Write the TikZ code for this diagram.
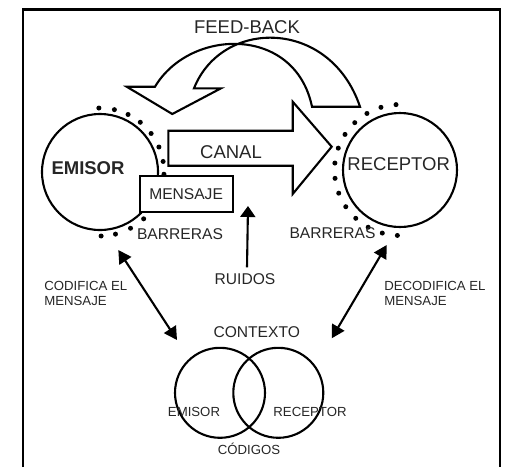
\documentclass[tikz,border=0pt]{standalone}
\usepackage{fontspec}
\setmainfont{Liberation Sans}
\usetikzlibrary{arrows.meta}

\begin{document}
\begin{tikzpicture}[x=1pt,y=-1pt,line width=2.1pt,
  ring/.style={draw, circle, inner sep=0pt},
  bigtext/.style={inner sep=0pt, text=black!85, font=\fontsize{18.5}{21}\selectfont},
  midtext/.style={inner sep=0pt, text=black!85, font=\fontsize{15.6}{18}\selectfont},
  smalltext/.style={inner sep=0pt, text=black!85, font=\fontsize{13.2}{15.7}\selectfont},
  ruidoarrow/.style={-{Triangle[length=11pt,width=15pt]}},
  twoway/.style={{Triangle[length=13pt,width=14pt]}-{Triangle[length=13pt,width=14pt]}}]
\useasboundingbox (0,0) rectangle (510,467);

% frame
\draw (22.7,467) -- (22.7,9.5) -- (500,9.5) -- (500,467);

% emisor and receptor
\node[ring, minimum size=116pt] (emisor) at (100,172) {};
\node[ring, minimum size=114pt] (receptor) at (400,170) {};
\foreach \a in {-91,-77,-64,-51,-37,-23,-9.5,2,16,30,47,61.5,76,89}
  \fill (emisor.center) ++(\a:64) circle (2.5pt);
\foreach \i in {0,...,13}
  \fill (receptor.center) ++({-93.5-13.4*\i}:65.5) circle (2.5pt);
\node[bigtext, font=\fontsize{18.5}{21}\selectfont\bfseries] (emisorlbl) at (88,168.3) {EMISOR};
\node[bigtext] (receptorlbl) at (398.7,164.5) {RECEPTOR};

% canal
\draw (168.3,130.7) -- (292.7,130.7) -- (292.7,101.7) -- (331.7,146.7) -- (292.7,194) -- (292.7,165.7) -- (168.3,165.7) -- cycle;
\node[bigtext] (canal) at (231,152) {CANAL};

% feed-back
\draw (155,86.7) .. controls (190,28) and (295,25) .. (312,106.7) -- (360,106.7)
  .. controls (330,18) and (222,18) .. (194,88.3) -- (221,88.3) -- (172.3,114) -- (126.7,86.7) -- cycle;
\node[bigtext] (feedback) at (247,27.5) {FEED-BACK};

\node[draw, fill=white, minimum width=93pt, minimum height=36pt, inner sep=0pt, midtext] (mensaje) at (186.1,193.7) {MENSAJE};

\node[midtext] (barrerasE) at (180,234.5) {BARRERAS};
\node[midtext] (barrerasR) at (332.5,233.5) {BARRERAS};

% ruidos
\node[midtext] (ruidos) at (245,279) {RUIDOS};
\coordinate (ruidotip) at (248,206);
\draw[ruidoarrow] ([xshift=2pt,yshift=5pt]ruidos.north) -- (ruidotip);

% codifica / decodifica
\node[smalltext, align=left, anchor=north west] (codifica) at (43.3,280) {CODIFICA EL\\MENSAJE};
\node[smalltext, align=left, anchor=north west] (decodifica) at (383.3,280) {DECODIFICA EL\\MENSAJE};
\coordinate (codtop) at (118.3,250);
\coordinate (codbot) at (177,340);
\coordinate (dectop) at (386.7,245);
\coordinate (decbot) at (331.7,338.3);
\draw[twoway] (codtop) -- (codbot);
\draw[twoway] (dectop) -- (decbot);

% contexto
\node[midtext] (contexto) at (256.7,331.7) {CONTEXTO};
\node[ring, minimum size=90pt] (ctxemisor) at (220,392.8) {};
\node[ring, minimum size=90pt] (ctxreceptor) at (278.3,392.8) {};
\node[smalltext] (emisorsm) at (194,411.7) {EMISOR};
\node[smalltext] (receptorsm) at (310,411.7) {RECEPTOR};
\node[smalltext, anchor=base] (codigos) at (249,454) {CÓDIGOS};

\end{tikzpicture}
\end{document}
